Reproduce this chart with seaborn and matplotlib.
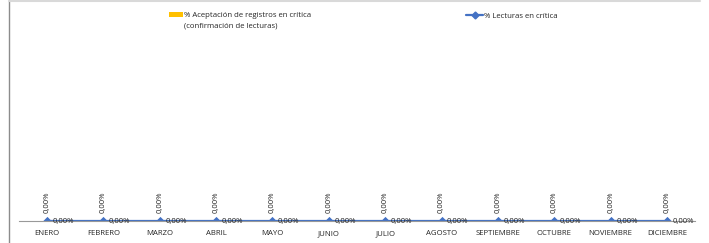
import matplotlib
matplotlib.use('Agg')
import matplotlib.pyplot as plt
from matplotlib.lines import Line2D
from matplotlib.patches import Patch
import pandas as pd
import seaborn as sns

meses = ['ENERO', 'FEBRERO', 'MARZO', 'ABRIL', 'MAYO', 'JUNIO', 'JULIO',
         'AGOSTO', 'SEPTIEMBRE', 'OCTUBRE', 'NOVIEMBRE', 'DICIEMBRE']
aceptacion = [0.0, 0.0, 0.0, 0.0, 0.0, 0.0, 0.0, 0.0, 0.0, 0.0, 0.0, 0.0]
lecturas = [0.0, 0.0, 0.0, 0.0, 0.0, 0.0, 0.0, 0.0, 0.0, 0.0, 0.0, 0.0]

serie_barras = ['% Aceptación de registros en crítica', '(confirmación de lecturas)']
serie_linea = '% Lecturas en crítica'

color_barras = '#FFC000'
color_linea = '#4472C4'
color_texto = '#262626'

df = pd.DataFrame({'mes': meses, 'aceptacion': aceptacion, 'lecturas': lecturas})

sns.set_style('white')
plt.rcParams['font.family'] = ['Open Sans', 'DejaVu Sans']

fig = plt.figure(figsize=(7.09, 2.43), dpi=100)
ax = fig.add_axes([18.8 / 709, 1 - 221 / 243, (695.2 - 18.8) / 709, (221 - 40) / 243])

sns.barplot(data=df, x='mes', y='aceptacion', color=color_barras, width=0.5, ax=ax)
sns.pointplot(data=df, x='mes', y='lecturas', color=color_linea, markers='D',
              markersize=3.5, linewidth=1.6, ax=ax)

ax.set_ylim(0, 1)
ax.set_xlim(-0.5, len(meses) - 0.5)
ax.set_xlabel('')
ax.set_ylabel('')
ax.set_yticks([])
ax.tick_params(axis='x', length=0, labelsize=5.6, pad=6.5, colors=color_texto)
for side in ['top', 'right', 'left']:
    ax.spines[side].set_visible(False)
ax.spines['bottom'].set_color('#999999')
ax.spines['bottom'].set_linewidth(0.8)

def fmt(v):
    return f'{v * 100:.2f}%'.replace('.', ',')

# etiquetas de las barras (verticales)
for i, v in enumerate(aceptacion):
    ax.annotate(fmt(v), (i, v), xytext=(0, 5.5), textcoords='offset points',
                rotation=90, ha='center', va='bottom', fontsize=5.6, color=color_texto)

# etiquetas de la linea
for i, v in enumerate(lecturas):
    ax.annotate(fmt(v), (i, v), xytext=(4, 0), textcoords='offset points',
                ha='left', va='center', fontsize=5.6, color=color_texto)

h1 = Patch(facecolor=color_barras, edgecolor='none')
h2 = Line2D([0], [0], color=color_linea, lw=1.6, marker='D', markersize=3.5)

fig.legend([h1], [serie_barras[0]], loc='upper left', bbox_to_anchor=(166 / 709, 1 - 9 / 243),
           frameon=False, fontsize=5.6, handlelength=1.8, handleheight=0.6,
           handletextpad=0.15, borderaxespad=0, labelcolor=color_texto)
fig.text(184.5 / 709, 1 - 26 / 243, serie_barras[1], fontsize=5.6, color=color_texto,
         ha='left', va='center')
fig.legend([h2], [serie_linea], loc='upper left', bbox_to_anchor=(463 / 709, 1 - 9 / 243),
           frameon=False, fontsize=5.6, handlelength=2.2,
           handletextpad=0.1, borderaxespad=0, labelcolor=color_texto)

# bordes del area del grafico
fig.add_artist(Line2D([9 / 709, 9 / 709], [0, 1], color='#8c8c8c', lw=1.0))
fig.add_artist(Line2D([9 / 709, 700 / 709], [1 - 1.5 / 243, 1 - 1.5 / 243], color='#d9d9d9', lw=1.5))

fig.savefig('out.png', dpi=100)
